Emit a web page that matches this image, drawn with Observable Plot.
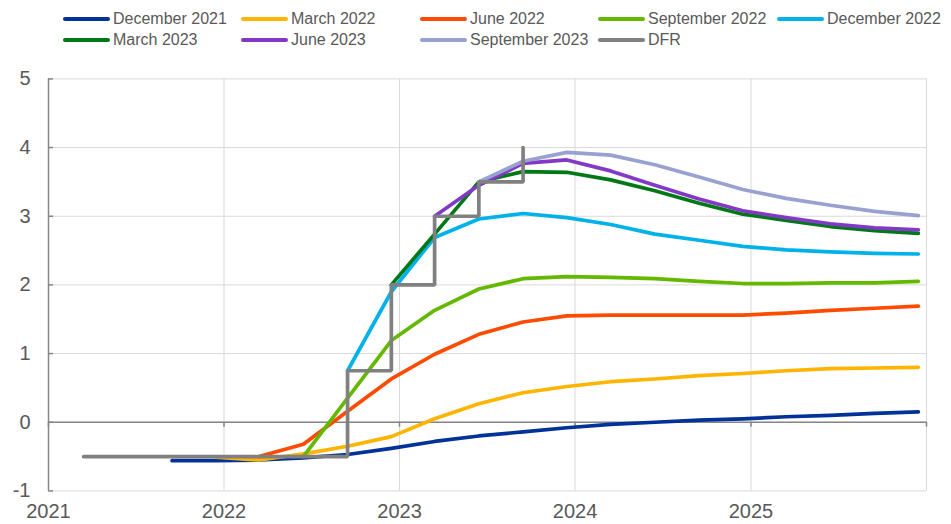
<!DOCTYPE html>
<html>
<head>
<meta charset="utf-8">
<script src="https://cdn.jsdelivr.net/npm/d3@7"></script>
<script src="https://cdn.jsdelivr.net/npm/@observablehq/plot@0.6"></script>
<style>
  body { margin: 0; background: #fff; font-family: Arial, "Liberation Sans", sans-serif; }
  #legend { position: relative; width: 951px; height: 56px; }
  .item { position: absolute; display: flex; align-items: center; height: 20px; font-size: 16px; color: #595959; white-space: nowrap; }
  .sw { width: 47px; height: 4px; border-radius: 2px; margin-right: 3px; }
</style>
</head>
<body>
<div id="legend"></div>
<div id="chart"></div>
<script>
// Quarterly observation points (plotted mid last month of quarter)
const quarters = [
  "2021Q1","2021Q2","2021Q3","2021Q4",
  "2022Q1","2022Q2","2022Q3","2022Q4",
  "2023Q1","2023Q2","2023Q3","2023Q4",
  "2024Q1","2024Q2","2024Q3","2024Q4",
  "2025Q1","2025Q2","2025Q3","2025Q4"
];

const seriesNames = ["December 2021","March 2022","June 2022","September 2022","December 2022","March 2023","June 2023","September 2023"];
const seriesColors = ["#003299","#FFB400","#FF4B00","#65B800","#00B1EA","#007816","#8139C6","#98A1D0"];
const seriesStart = ["2021Q3","2021Q4","2022Q1","2022Q2","2022Q3","2022Q4","2023Q1","2023Q2"];

const dec2021 = [-0.56,-0.56,-0.55,-0.52,-0.47,-0.38,-0.28,-0.20,-0.14,-0.08,-0.03,0.00,0.03,0.05,0.08,0.10,0.13,0.15];
const mar2022 = [-0.51,-0.55,-0.46,-0.35,-0.21,0.05,0.27,0.43,0.52,0.59,0.63,0.68,0.71,0.75,0.78,0.79,0.80];
const jun2022 = [-0.50,-0.32,0.16,0.63,0.99,1.28,1.46,1.55,1.56,1.56,1.56,1.56,1.59,1.63,1.66,1.69];
const sep2022 = [-0.50,0.35,1.19,1.63,1.94,2.09,2.12,2.11,2.09,2.05,2.02,2.02,2.03,2.03,2.05];
const dec2022 = [0.75,1.90,2.69,2.96,3.04,2.98,2.88,2.74,2.65,2.56,2.51,2.48,2.46,2.45];
const mar2023 = [2.00,2.74,3.50,3.65,3.64,3.53,3.37,3.19,3.03,2.94,2.85,2.79,2.75];
const jun2023 = [3.00,3.45,3.77,3.82,3.66,3.45,3.25,3.08,2.98,2.89,2.83,2.80];
const sep2023 = [3.50,3.80,3.93,3.89,3.75,3.57,3.39,3.26,3.16,3.07,3.01];
const seriesValues = [dec2021, mar2022, jun2022, sep2022, dec2022, mar2023, jun2023, sep2023];

const dfrName = "DFR";
const dfrColor = "#808080";
const dfrStart = "2021Q1";
const dfrValues = [-0.5,-0.5,-0.5,-0.5,-0.5,-0.5,0.75,2.0,3.0,3.5,4.0];

const yTicks = [-1,0,1,2,3,4,5];
const gridYears = [2021,2022,2023,2024,2025,2026];
const labelYears = [2021,2022,2023,2024,2025];

const qDate = q => new Date(Date.UTC(+q.slice(0,4), (+q.slice(5)) * 3 - 1, 15));
const yDate = y => new Date(Date.UTC(y, 0, 1));

const rows = [];
seriesNames.forEach((name, s) => {
  const s0 = quarters.indexOf(seriesStart[s]);
  seriesValues[s].forEach((v, i) => rows.push({series: name, date: qDate(quarters[s0 + i]), value: v}));
});
const d0 = quarters.indexOf(dfrStart);
const dfrRows = dfrValues.map((v, i) => ({series: dfrName, date: qDate(quarters[d0 + i]), value: v}));

// Legend
const legendItems = seriesNames.map((n, i) => ({name: n, color: seriesColors[i]})).concat([{name: dfrName, color: dfrColor}]);
const colLeft = [63, 241, 420, 598, 777];
const rowTop = [9, 30];
const legend = document.getElementById("legend");
legendItems.forEach((it, i) => {
  const el = document.createElement("div");
  el.className = "item";
  el.style.left = colLeft[i % 5] + "px";
  el.style.top = rowTop[Math.floor(i / 5)] + "px";
  el.innerHTML = `<span class="sw" style="background:${it.color}"></span><span>${it.name}</span>`;
  legend.appendChild(el);
});

const gridColor = "#d9d9d9";
const axisColor = "#868686";

const chart = Plot.plot({
  width: 951,
  height: 468,
  marginTop: 22.4,
  marginBottom: 33.6,
  marginLeft: 48,
  marginRight: 25,
  style: {fontFamily: "Arial, 'Liberation Sans', sans-serif", fontSize: "20px", color: "#595959", background: "#fff"},
  x: {type: "utc", domain: [yDate(2021), yDate(2026)], axis: null, label: null},
  y: {domain: [-1, 5], axis: null, label: null},
  color: {domain: seriesNames, range: seriesColors},
  marks: [
    Plot.ruleY(yTicks, {stroke: gridColor, strokeWidth: 1}),
    Plot.ruleX(gridYears.map(yDate), {stroke: gridColor, strokeWidth: 1}),
    Plot.ruleY([0], {stroke: axisColor, strokeWidth: 1.5}),
    Plot.ruleX([yDate(2021)], {stroke: axisColor, strokeWidth: 1.5}),
    Plot.ruleY(yTicks, {x1: () => yDate(2021), x2: () => yDate(2021), insetRight: -5, stroke: axisColor, strokeWidth: 1.5}),
    Plot.ruleX(gridYears.map(yDate), {y1: 0, y2: 0, insetBottom: -5, stroke: axisColor, strokeWidth: 1.5}),
    Plot.line(rows, {x: "date", y: "value", z: "series", stroke: "series", strokeWidth: 3.7, strokeLinecap: "round", strokeLinejoin: "round"}),
    Plot.line(dfrRows, {x: "date", y: "value", curve: "step-after", stroke: dfrColor, strokeWidth: 3.7, strokeLinecap: "round", strokeLinejoin: "miter"}),
    Plot.axisY(yTicks, {anchor: "left", label: null, tickSize: 0, tickPadding: 18, tickFormat: d => d < 0 ? "-" + Math.abs(d) : String(d)}),
    Plot.axisX(labelYears.map(yDate), {anchor: "bottom", label: null, tickSize: 0, tickPadding: 13, tickFormat: d => String(d.getUTCFullYear())})
  ]
});
document.getElementById("chart").appendChild(chart);
</script>
</body>
</html>
